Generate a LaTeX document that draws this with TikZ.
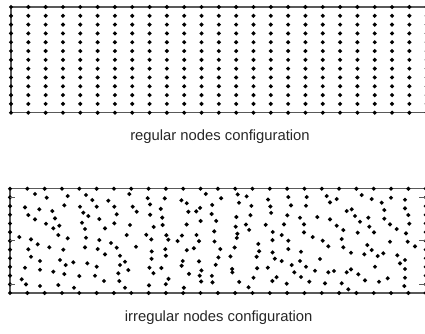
\documentclass[tikz,border=0pt]{standalone}
\usepackage{fontspec}
\setmainfont{Liberation Sans}
\begin{document}
\begin{tikzpicture}[x=1pt,y=-1pt,
  frame/.style={draw=black!65,line width=1.1pt},
  nodedot/.style={fill=black},
  tickmark/.style={draw=black!65,line width=0.9pt},
  caption/.style={font=\fontsize{14.8}{17}\selectfont,text=black!85,anchor=base,inner sep=0pt}]
\useasboundingbox (0,0) rectangle (425,333);
\clip (0,0) rectangle (425,333);
\def\dd{2.2}
% ---------- regular configuration ----------
\draw[frame] (11,7) rectangle (426.7,112.7);
\foreach \i in {0,...,24}
  \foreach \j in {0,...,12}
    \fill[nodedot] ({11+17.32*\i},{7+8.808*\j}) +(0,-\dd) -- +(\dd,0) -- +(0,\dd) -- +(-\dd,0) -- cycle;
\node[caption] (capreg) at (220,140) {regular nodes configuration};
% ---------- irregular configuration ----------
\draw[frame] (10,188.7) rectangle (425.7,293);
\foreach \i in {0,...,24} {
  \fill[nodedot] ({10+17.32*\i},188.7) +(0,-\dd) -- +(\dd,0) -- +(0,\dd) -- +(-\dd,0) -- cycle;
  \fill[nodedot] ({10+17.32*\i},293) +(0,-\dd) -- +(\dd,0) -- +(0,\dd) -- +(-\dd,0) -- cycle;
}
\foreach \j in {1,...,11} {
  \fill[nodedot] (10,{188.7+8.692*\j}) +(0,-\dd) -- +(\dd,0) -- +(0,\dd) -- +(-\dd,0) -- cycle;
  \fill[nodedot] (425.7,{188.7+8.692*\j}) +(0,-\dd) -- +(\dd,0) -- +(0,\dd) -- +(-\dd,0) -- cycle;
}
\foreach \j in {1,6,11} {
  \draw[tickmark] (10,{188.7+8.692*\j}) -- ++(5,0);
  \draw[tickmark] (425.7,{188.7+8.692*\j}) -- ++(-7,0);
}
% left part
\foreach \x/\y in {35/194, 46.7/197.7, 67.7/196, 86/195, 92.3/200, 108.3/200.7, 129.3/194,
  25/207.3, 39.3/209.3, 52.3/211, 64.3/205.3, 80/206.7, 96.7/206.7, 114.3/206.7, 132.7/206.7,
  28.3/215, 35/219.3, 55/218.3, 83.3/212.7, 88.3/216, 99.3/219, 116.7/214.3, 136.7/211.7,
  46/223.7, 59.3/225.7, 53.3/228.3, 82/222.7, 85/229, 105/228.3, 114.3/223.3, 130/225,
  19.3/237, 31/239.3, 58.3/235, 67.7/238.3, 86/237.7, 99.3/240, 111/243, 126.7/235,
  28.3/249.3, 37.7/244.3, 49.3/247.3, 63.3/249.7, 85/247.3, 97.7/249, 116.7/247.7, 136/246.7,
  31/256.7, 40/261, 60/260, 65.7/265, 73.3/262.3, 87.3/263.3, 96.7/266.7, 105/254.3, 120/255.7, 125/261.7, 120/265,
  25/267.7, 40/269.7, 53.3/271.7, 64.3/274, 79.3/276, 95/275.7, 104/281, 118.3/273.3, 128.3/270,
  21.7/279.3, 26/284.3, 40/286, 58.3/285, 74/287.7, 119.3/281, 125/287.7}
  \fill[nodedot] (\x,\y) +(0,-\dd) -- +(\dd,0) -- +(0,\dd) -- +(-\dd,0) -- cycle;
% right part
\foreach \x/\y in {288.3/197, 306.7/197, 326.7/196, 336.7/199, 361.7/195, 371.7/199, 391/197.7, 405/199.7,
  291/205.3, 306/205.7, 330/202.3, 346.7/211, 351.7/209.3, 381.7/202.7, 405/208.3,
  287.3/215.3, 300/217.7, 317.3/217, 330/219.3, 355/216, 368.3/217.7, 384.3/210, 408.3/215,
  284/224.3, 304/224.3, 336.7/225.7, 343.3/230, 360/221.7, 369.3/226.7, 384.3/218.7, 390/224.3, 396.7/229, 409.3/223.7,
  281.7/235, 288.3/240.7, 304/232.3, 312.7/237, 322.7/240.7, 328.3/246.3, 341.7/239, 343.3/247.3, 357.7/232.7, 374/232.3,
  367.3/245, 371.7/250, 377.7/256, 383.3/253.3, 390/241.7, 406/233.3, 407.7/241.7, 415/246.3,
  288.3/249, 301/251.7, 320/259, 351/252.7, 364.3/254.3, 397.3/255.3, 405/260, 400/263.3,
  281.7/261, 291.7/265, 300/261, 306/266.7, 315/270.7, 328.3/272.3, 334/271, 346.7/272.3, 351/269.3, 358.3/274.3, 375/266.7, 405/269,
  294.3/272.3, 301/277, 286.7/283.7, 309.3/281.7, 325/283.3, 341.7/283.3, 348.3/289.3, 365/280.3, 379/281.7, 387.7/278.3, 405/277.7, 404.3/286}
  \fill[nodedot] (\x,\y) +(0,-\dd) -- +(\dd,0) -- +(0,\dd) -- +(-\dd,0) -- cycle;
% middle part
\pgfmathsetseed{7}
\foreach \k in {8,...,15}
  \foreach \j in {1,...,11} {
    \pgfmathsetmacro\px{max(142,min(278,10+17.32*\k+7*rand))}
    \pgfmathsetmacro\py{188.7+8.692*\j+3.5*rand}
    \fill[nodedot] (\px,\py) +(0,-\dd) -- +(\dd,0) -- +(0,\dd) -- +(-\dd,0) -- cycle;
  }
\node[caption] (capirr) at (218.7,321) {irregular nodes configuration};
\end{tikzpicture}
\end{document}
